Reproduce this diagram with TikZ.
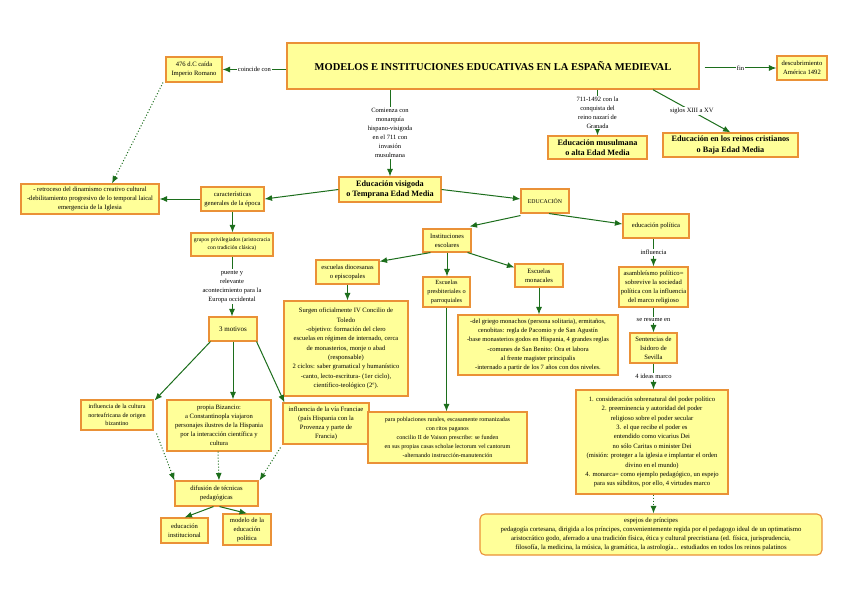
\documentclass[tikz,border=0pt]{standalone}
\usepackage{fontspec}
\setmainfont{Liberation Serif}
\usetikzlibrary{arrows.meta,calc}
\definecolor{boxfill}{RGB}{255,255,153}
\definecolor{boxline}{RGB}{234,145,55}
\definecolor{arr}{RGB}{28,110,28}
\begin{document}
\begin{tikzpicture}[x=1pt,y=-1pt,
 box/.style={draw=boxline,fill=boxfill,line width=1.1pt,align=center,inner sep=1pt,font=\fontsize{6.6}{9}\selectfont},
 bbox/.style={box,font=\bfseries\fontsize{8.2}{10.5}\selectfont},
 sz/.style 2 args={minimum width=#1pt,minimum height=#2pt},
 conn/.style={draw=arr,line width=1pt,-{Latex[length=7.5pt,width=6pt]}},
 dconn/.style={conn,dotted},
 lab/.style={fill=white,inner sep=1pt,align=center,font=\fontsize{6.5}{9}\selectfont,text=black},
]
\fill[white] (0,0) rectangle (848,599);
\useasboundingbox (0,0) rectangle (848,599);

% top row
\node[box,line width=1.4pt,sz={412}{46},font=\bfseries\fontsize{10.5}{12}\selectfont] (title) at (493,66) {MODELOS E INSTITUCIONES EDUCATIVAS EN LA ESPAÑA MEDIEVAL};
\node[box,sz={56}{25}] (caida) at (194,69.5) {476 d.C caída\\ Imperio Romano};
\node[box,sz={50}{24}] (descub) at (802,68) {descubrimiento\\ América 1492};

% second row
\node[bbox,sz={102}{25}] (visig) at (390,189.5) {Educación visigoda\\ o Temprana Edad Media};
\node[bbox,sz={99}{23}] (musul) at (597.5,147.5) {Educación musulmana\\ o alta Edad Media};
\node[bbox,sz={135}{24}] (crist) at (730.5,145) {Educación en los reinos cristianos\\ o Baja Edad Media};
\node[box,sz={48}{24},font=\fontsize{5.8}{7}\selectfont] (educ) at (545,201) {EDUCACIÓN};
\node[box,sz={63}{24}] (caract) at (232.5,199) {características\\ generales de la época};
\node[box,sz={138}{30}] (retro) at (90,199) {- retroceso del dinamismo creativo cultural\\ -debilitamiento progresivo de lo temporal laical\\ emergencia de la Iglesia};

% left branch
\node[box,sz={82}{23},font=\fontsize{5.7}{8}\selectfont] (grupos) at (232,244.5) {grupos privilegiados (aristocracia\\ con tradición clásica)};
\node[box,sz={48}{24},font=\fontsize{7}{8}\selectfont] (motivos) at (233,329) {3 motivos};
\node[box,sz={72}{30},font=\fontsize{6.2}{8.6}\selectfont] (inflnorte) at (117,415) {influencia de la cultura\\ norteafricana de origen\\ bizantino};
\node[box,sz={104}{51}] (bizancio) at (219,425.5) {propia Bizancio:\\ a Constantinopla viajaron\\ personajes ilustres de la Hispania\\ por la interacción científica y\\ cultura};
\node[box,sz={86}{41}] (franc) at (326,423.5) {influencia de la vía Franciae\\ (país Hispania con la\\ Provenza y parte de\\ Francia)};
\node[box,sz={83}{25}] (difus) at (216.5,493.5) {difusión de técnicas\\ pedagógicas};
\node[box,sz={47}{25}] (educinst) at (184.5,530.5) {educación\\ institucional};
\node[box,sz={48}{31}] (modelo) at (247,529.5) {modelo de la\\ educación\\ política};

% middle branch
\node[box,sz={48}{23}] (instit) at (447,240.5) {Instituciones\\ escolares};
\node[box,sz={63}{24}] (diocesa) at (347.5,272) {escuelas diocesanas\\ o episcopales};
\node[box,sz={47}{30},font=\fontsize{6.3}{8.6}\selectfont] (presbit) at (446.5,292) {Escuelas\\ presbiteriales o\\ parroquiales};
\node[box,sz={48}{23}] (monac) at (539,275.5) {Escuelas\\ monacales};
\node[box,sz={124}{95},font=\fontsize{6.6}{9.3}\selectfont] (concilio) at (346,348.5) {Surgen oficialmente IV Concilio de\\ Toledo\\ -objetivo: formación del clero\\ escuelas en régimen de internado, cerca\\ de monasterios, monje o abad\\ (responsable)\\ 2 ciclos: saber gramatical y humanístico\\ -canto, lecto-escritura- (1er ciclo),\\ científico-teológico (2º).};
\node[box,sz={160}{60},font=\fontsize{6.5}{9.2}\selectfont] (monactext) at (538,345) {-del griego monachos (persona solitaria), ermitaños,\\ cenobitas: regla de Pacomio y de San Agustín\\ -base monasterios godos en Hispania, 4 grandes reglas\\ -comunes de San Benito: Ora et labora\\ al frente magister principalis\\ -internado a partir de los 7 años con dos niveles.};
\node[box,sz={159}{51},font=\fontsize{6.1}{9}\selectfont] (rurales) at (447.5,437.5) {para poblaciones rurales, escasamente romanizadas\\ con ritos paganos\\ concilio II de Vaison prescribe: se funden\\ en sus propias casas scholae lectorum vel cantorum\\ -alternando instrucción-manutención};

% right branch
\node[box,sz={66}{24}] (edpol) at (656,226) {educación política};
\node[box,sz={69}{40}] (asamb) at (653.5,287) {asambleísmo político=\\ sobrevive la sociedad\\ política con la influencia\\ del marco religioso};
\node[box,sz={47}{30}] (isidoro) at (653.5,348) {Sentencias de\\ Isidoro de\\ Sevilla};
\node[box,sz={152}{104},font=\fontsize{6.6}{9.4}\selectfont] (ideas) at (652,442) {1. consideración sobrenatural del poder político\\ 2. preeminencia y autoridad del poder\\ religioso sobre el poder secular\\ 3. el que recibe el poder es\\ entendido como vicarius Dei\\ no sólo Caritas o minister Dei\\ (misión: proteger a la iglesia e implantar el orden\\ divino en el mundo)\\ 4. monarca= como ejemplo pedagógico, un espejo\\ para sus súbditos, por ello, 4 virtudes marco};
\node[box,rounded corners=5pt,sz={342}{41},font=\fontsize{6.7}{8.8}\selectfont] (espejos) at (651,534.5) {espejos de príncipes\\ pedagogía cortesana, dirigida a los príncipes, convenientemente regida por el pedagogo ideal de un optimatismo\\ aristocrático godo, aferrado a una tradición física, ética y cultural precristiana (ed. física, jurisprudencia,\\ filosofía, la medicina, la música, la gramática, la astrología... estudiados en todos los reinos palatinos};

% connectors top
\draw[conn] (title.west |- caida.east) -- node[lab]{coincide con} (caida.east);
\draw[conn] ($(title.east |- descub.west)+(5,0)$) -- node[lab]{fin} (descub.west);
\draw[conn] (title.south -| visig.north) -- node[lab]{Comienza con\\ monarquía\\ hispano-visigoda\\ en el 711 con\\ invasión\\ musulmana} (visig.north);
\draw[conn] (title.south -| musul.north) -- node[lab]{711-1492 con la\\ conquista del\\ reino nazarí de\\ Granada} (musul.north);
\draw[conn] ([xshift=160pt]title.south) -- node[lab]{siglos XIII a XV} (crist.north);
\draw[dconn] ([xshift=-31pt]caida.south) -- ([xshift=22pt]retro.north);

% second row
\draw[conn] (visig.west) -- (caract.east);
\draw[conn] (caract.west) -- (retro.east);
\draw[conn] (visig.east) -- ([yshift=2pt]educ.west);

% left branch
\draw[conn] (caract.south) -- (caract.south |- grupos.north);
\draw[conn] (grupos.south) -- node[lab]{puente y\\ relevante\\ acontecimiento para la\\ Europa occidental} (grupos.south |- motivos.north);
\draw[conn] ([xshift=2pt]motivos.south west) -- ([xshift=1pt,yshift=-1pt]inflnorte.north east);
\draw[conn] (motivos.south) -- (motivos.south |- bizancio.north);
\draw[conn] ([xshift=-1pt]motivos.south east) -- ([xshift=2pt]franc.north west);
\draw[dconn] ([xshift=3pt,yshift=-3pt]inflnorte.south east) -- ([xshift=0pt]difus.north west);
\draw[dconn] ([xshift=-1pt]bizancio.south) -- (bizancio.south |- difus.north);
\draw[dconn] ([xshift=-2pt,yshift=-3pt]franc.south west) -- ([xshift=1pt]difus.north east);
\draw[conn] ([xshift=-3pt]difus.south) -- (educinst.north);
\draw[conn] ([xshift=3pt]difus.south) -- (modelo.north);

% middle branch
\draw[conn] ([yshift=-2pt]educ.south west) -- ([xshift=-2pt,yshift=2pt]instit.north east);
\draw[conn] ([xshift=4pt]educ.south) -- ([yshift=2pt]edpol.west);
\draw[conn] ([xshift=8pt]instit.south west) -- ([yshift=-2pt]diocesa.north east);
\draw[conn] (instit.south) -- (instit.south |- presbit.north);
\draw[conn] ([xshift=-4pt]instit.south east) -- ([yshift=-4pt]monac.north west);
\draw[conn] (diocesa.south) -- (diocesa.south |- concilio.north);
\draw[conn] (monac.south) -- (monac.south |- monactext.north);
\draw[conn] (presbit.south) -- (presbit.south |- rurales.north);

% right branch
\draw[conn] (edpol.south -| asamb.north) -- node[lab]{influencia} (asamb.north);
\draw[conn] (asamb.south) -- node[lab]{se resume en} (isidoro.north);
\draw[conn] (isidoro.south) -- node[lab]{4 ideas marco} (isidoro.south |- ideas.north);
\draw[dconn] (ideas.south -| isidoro.south) -- (isidoro.south |- espejos.north);
\end{tikzpicture}
\end{document}
